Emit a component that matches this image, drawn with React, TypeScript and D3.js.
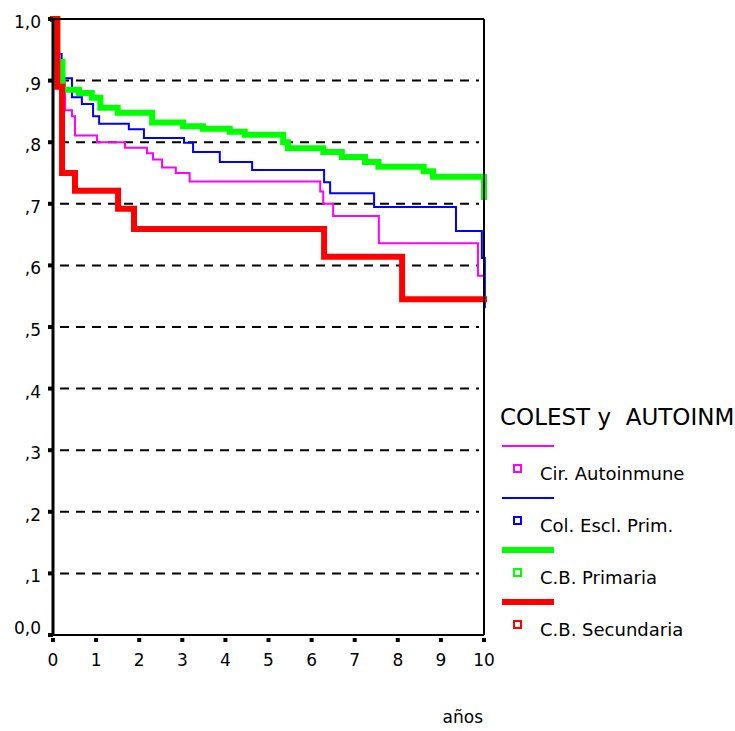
import React from "react";
import * as d3 from "d3";

// ---- data ----
const yTicks = [0, 0.1, 0.2, 0.3, 0.4, 0.5, 0.6, 0.7, 0.8, 0.9, 1.0];
const yTickLabels = ["0,0", ",1", ",2", ",3", ",4", ",5", ",6", ",7", ",8", ",9", "1,0"];
const xTicks = [0, 1, 2, 3, 4, 5, 6, 7, 8, 9, 10];
const gridValues = [0.1, 0.2, 0.3, 0.4, 0.5, 0.6, 0.7, 0.8, 0.9];

const legendTitle = "COLEST y  AUTOINM";
const xAxisTitle = "años";

const seriesNames = ["Cir. Autoinmune", "Col. Escl. Prim.", "C.B. Primaria", "C.B. Secundaria"];

const autoT = [0, 0.1, 0.28, 0.44, 0.51, 1.02, 1.67, 2.18, 2.32, 2.53, 2.85, 3.17, 6.2, 6.27, 6.5, 7.56, 9.86, 10];
const autoS = [1.0, 0.9, 0.852, 0.842, 0.811, 0.8, 0.791, 0.782, 0.772, 0.759, 0.75, 0.736, 0.72, 0.7, 0.68, 0.636, 0.583, 0.583];

const cepT = [0, 0.08, 0.2, 0.44, 0.67, 0.93, 1.07, 1.76, 2.11, 3.04, 3.25, 3.87, 4.62, 6.29, 6.43, 7.45, 9.35, 9.95, 10.02];
const cepS = [1.0, 0.943, 0.904, 0.873, 0.862, 0.842, 0.83, 0.821, 0.807, 0.799, 0.784, 0.768, 0.755, 0.735, 0.717, 0.695, 0.656, 0.612, 0.532];

const cbpT = [0, 0.1, 0.22, 0.6, 0.9, 1.1, 1.5, 2.3, 3.02, 3.48, 4.1, 4.45, 5.34, 5.45, 6.27, 6.7, 7.24, 7.55, 8.6, 8.82, 10];
const cbpS = [1.0, 0.93, 0.885, 0.88, 0.872, 0.856, 0.848, 0.832, 0.826, 0.822, 0.817, 0.812, 0.8, 0.79, 0.784, 0.776, 0.768, 0.76, 0.753, 0.744, 0.711];

const cbsT = [0, 0.1, 0.21, 0.51, 1.51, 1.88, 6.29, 8.1, 10];
const cbsS = [1.0, 0.89, 0.75, 0.721, 0.692, 0.659, 0.614, 0.545, 0.545];

const seriesColors = ["#ff00ff", "#0000ff", "#00ff00", "#ff0000"];
const seriesWidths = [2, 2, 6, 6];

export default function App() {
  const W = 735, H = 731;
  const left = 53, right = 484, top = 19, bottom = 635;
  const x = d3.scaleLinear().domain([0, 10]).range([left, right]);
  const y = d3.scaleLinear().domain([0, 1]).range([bottom, top]);

  const series = [
    { t: autoT, s: autoS },
    { t: cepT, s: cepS },
    { t: cbpT, s: cbpS },
    { t: cbsT, s: cbsS },
  ];

  const line = d3
    .line<[number, number]>()
    .x((d) => x(d[0]))
    .y((d) => y(d[1]))
    .curve(d3.curveStepAfter);

  const font = "'DejaVu Sans', Verdana, sans-serif";

  const legX = 502, legLineW = 52, legTop = 446, legStep = 52;

  return (
    <svg
      width={W}
      height={H}
      style={{ position: "absolute", left: 0, top: 0, background: "#fff" }}
      fontFamily={font}
    >
      <rect x={0} y={0} width={W} height={H} fill="#fff" />
      {/* gridlines */}
      {gridValues.map((g) => (
        <line
          key={"g" + g}
          x1={left + 7}
          x2={right - 5}
          y1={y(g)}
          y2={y(g)}
          stroke="#000"
          strokeWidth={2}
          strokeDasharray="9,7"
        />
      ))}
      {/* curves */}
      {series.map((sr, i) => (
        <path
          key={"s" + i}
          d={line(sr.t.map((t, j) => [t, sr.s[j]] as [number, number])) || ""}
          fill="none"
          stroke={seriesColors[i]}
          strokeWidth={seriesWidths[i]}
          strokeLinejoin="miter"
          strokeLinecap="square"
        />
      ))}
      {/* frame */}
      <line x1={left} x2={left} y1={top} y2={bottom + 1} stroke="#000" strokeWidth={3} />
      <line x1={left} x2={right} y1={bottom} y2={bottom} stroke="#000" strokeWidth={2} />
      <line x1={left} x2={right} y1={top} y2={top} stroke="#000" strokeWidth={2} />
      <line x1={right} x2={right} y1={top} y2={bottom} stroke="#000" strokeWidth={2} />
      {/* y ticks */}
      {yTicks.map((v, i) => (
        <g key={"yt" + i}>
          <rect x={left - 5} y={y(v) - 2} width={5} height={4} fill="#000" />
          <text
            x={41}
            y={Math.min(y(v) + 9, bottom - 1)}
            textAnchor="end"
            fontSize={17}
            fill="#000"
          >
            {yTickLabels[i]}
          </text>
        </g>
      ))}
      {/* x ticks */}
      {xTicks.map((v) => (
        <g key={"xt" + v}>
          <rect x={x(v) - 2} y={bottom + 3} width={4} height={4} fill="#000" />
          <text x={x(v)} y={666} textAnchor="middle" fontSize={17} fill="#000">
            {v}
          </text>
        </g>
      ))}
      <text x={483} y={723} textAnchor="end" fontSize={17} fill="#000">
        {xAxisTitle}
      </text>
      {/* legend */}
      <text x={500} y={425} fontSize={23} fill="#000" style={{ whiteSpace: "pre" }}>
        {legendTitle}
      </text>
      {seriesNames.map((name, i) => {
        const ly = legTop + i * legStep;
        return (
          <g key={"l" + i}>
            <line
              x1={legX}
              x2={legX + legLineW}
              y1={ly}
              y2={ly}
              stroke={seriesColors[i]}
              strokeWidth={seriesWidths[i]}
            />
            <rect
              x={514}
              y={ly + 19}
              width={7}
              height={7}
              fill="#fff"
              stroke={seriesColors[i]}
              strokeWidth={2}
            />
            <text x={540} y={ly + 34} fontSize={18} fill="#000">
              {name}
            </text>
          </g>
        );
      })}
    </svg>
  );
}
